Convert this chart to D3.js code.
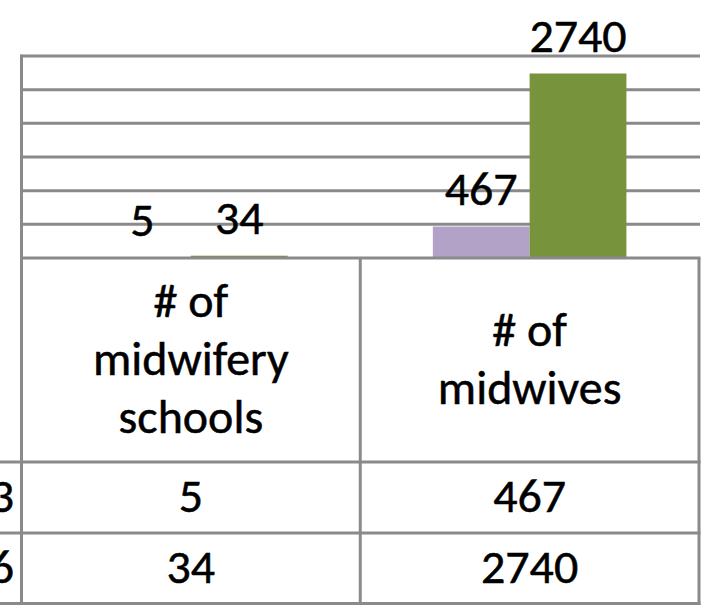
<!DOCTYPE html>
<html>
<head>
<meta charset="utf-8">
<script src="https://cdn.jsdelivr.net/npm/d3@7"></script>
<style>
  html, body { margin: 0; padding: 0; background: #ffffff; }
  svg { display: block; }
  text { font-family: Carlito, Lato, "Open Sans", sans-serif; fill: #000; stroke: #000; stroke-width: 0.5px; }
</style>
</head>
<body>
<script>
// ---- data ----
const categories = ["# of midwifery schools", "# of midwives"];
const categoryLines = [["# of", "midwifery", "schools"], ["# of", "midwives"]];
const seriesNames = ["2003", "2006"];
const series2003 = [5, 467];
const series2006 = [34, 2740];
const yTicks = [0, 500, 1000, 1500, 2000, 2500, 3000];
const seriesColors = ["#b3a2c7", "#77933c"];

(function () {
const W = 703, H = 606;
const svg = d3.select("body").append("svg").attr("width", W).attr("height", H);

const pLeft = 21.5, pRight = 699, pTop = 56, base = 258;
const rowLines = [258, 462, 533, 603.5];
const gridColor = "#8a8a8a";
const fontSize = 47, sx = 1.02;

const x = d3.scaleBand().domain(categories).range([pLeft, pRight]).paddingInner(0).paddingOuter(0);
const y = d3.scaleLinear().domain([0, 3000]).range([base, pTop]);
const cw = x.bandwidth();
const bw = cw / 3.5;
const xs = d3.scaleBand().domain(seriesNames).range([0, 2 * bw]);

const values = [series2003, series2006];

function txt(g, s, tx, ty) {
  g.append("g").attr("transform", `translate(${tx},${ty})`)
    .append("text").attr("transform", `scale(${sx},1)`)
    .attr("text-anchor", "middle").attr("font-size", fontSize).text(s);
}

// gridlines
svg.append("g").selectAll("line").data(yTicks.filter(t => t > 0)).join("line")
  .attr("x1", pLeft).attr("x2", pRight + 1)
  .attr("y1", d => y(d)).attr("y2", d => y(d))
  .attr("stroke", gridColor).attr("stroke-width", 3);

// bars
seriesNames.forEach((s, si) => {
  svg.append("g").selectAll("rect").data(categories).join("rect")
    .attr("x", c => x(c) + cw / 2 - bw + xs(s))
    .attr("width", xs.bandwidth())
    .attr("y", (c, i) => y(values[si][i]))
    .attr("height", (c, i) => base - y(values[si][i]))
    .attr("fill", seriesColors[si]);
});

// data labels
const lbl = svg.append("g");
seriesNames.forEach((s, si) => {
  categories.forEach((c, i) => {
    const cx = x(c) + cw / 2 - bw + xs(s) + xs.bandwidth() / 2;
    txt(lbl, String(values[si][i]), cx, y(values[si][i]) - 22);
  });
});

// table lines
const tl = svg.append("g").attr("stroke", gridColor).attr("stroke-width", 3);
tl.append("line").attr("x1", pLeft).attr("x2", pLeft).attr("y1", pTop - 1.5).attr("y2", rowLines[3] + 1.5);
categories.forEach(c => {
  tl.append("line").attr("x1", x(c) + cw).attr("x2", x(c) + cw).attr("y1", base).attr("y2", rowLines[3] + 1.5);
});
tl.append("line").attr("x1", pLeft).attr("x2", pRight + 1.5).attr("y1", base).attr("y2", base);
rowLines.slice(1).forEach(r => {
  tl.append("line").attr("x1", -5).attr("x2", pRight + 1.5).attr("y1", r).attr("y2", r);
});

// header text
const hd = svg.append("g");
const lineH = 58;
categories.forEach((c, i) => {
  const lines = categoryLines[i];
  const cy = (base + rowLines[1]) / 2;
  const first = cy - (lines.length - 1) * lineH / 2 + 15;
  lines.forEach((l, k) => txt(hd, l, x(c) + cw / 2, first + k * lineH));
});

// table values (row headers are cut off at the left edge, as in the reference)
const tv = svg.append("g");
values.forEach((vals, si) => {
  const by = si === 0 ? 512 : 583;
  categories.forEach((c, i) => txt(tv, String(vals[i]), x(c) + cw / 2, by));
  tv.append("g").attr("transform", `translate(14,${by})`)
    .append("text").attr("transform", `scale(${sx},1)`)
    .attr("text-anchor", "end").attr("font-size", fontSize).text(seriesNames[si]);
});
})();
</script>
</body>
</html>
